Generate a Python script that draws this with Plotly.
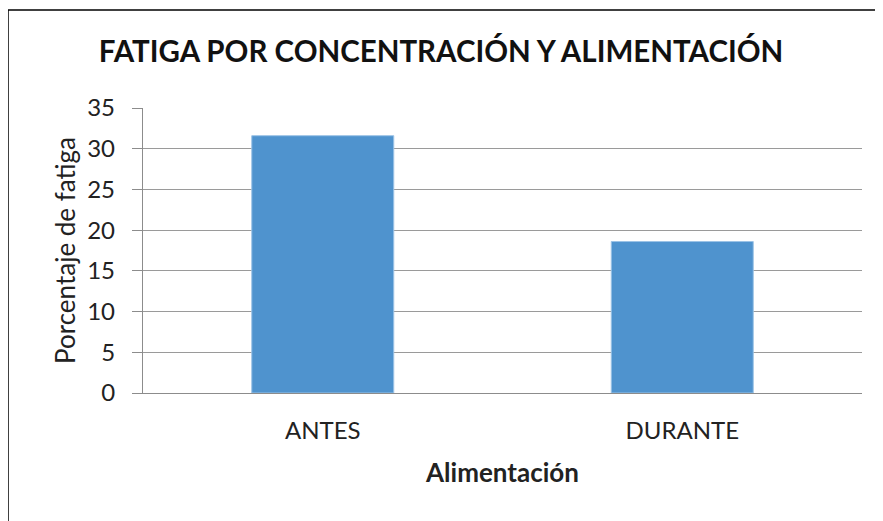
import plotly.graph_objects as go

categories = ["ANTES", "DURANTE"]
values = [31.6, 18.6]
y_ticks = [0, 5, 10, 15, 20, 25, 30, 35]

# the page body has an 8px margin, so figure coords = screen coords - 8
OFF = 8
W, H = 883 - OFF, 521 - OFF
L, R, T, B = 143 - OFF, W - (862 - OFF), 108 - OFF, H - (393 - OFF)
pw, ph = W - L - R, H - T - B

def px_x(x):
    return (x - OFF - L) / pw

def px_y(y):
    return 1 - (y - OFF - T) / ph

fig = go.Figure(go.Bar(x=categories, y=values,
                       marker=dict(color="#4F93CE", line=dict(color="#9CC3E6", width=1)),
                       width=0.395))

font = "Lato, Open Sans, sans-serif"
border = dict(color="black", width=1.5)
fig.update_layout(
    width=W, height=H,
    margin=dict(l=L, r=R, t=T, b=B),
    paper_bgcolor="white", plot_bgcolor="white",
    showlegend=False,
    font=dict(family=font, color="#222222", size=24),
    title=dict(text="<b>FATIGA POR CONCENTRACIÓN Y ALIMENTACIÓN</b>", x=px_x(441), xref="paper", xanchor="center",
               y=1 - (52 - OFF) / H, yanchor="middle", font=dict(size=29.5, color="#111111", family=font)),
    xaxis=dict(showline=True, linecolor="#8C8C8C", linewidth=1.3, ticks="", showgrid=False,
               title=dict(text="<b>Alimentación</b>", font=dict(size=26), standoff=20),
               tickfont=dict(size=24), ticklabelstandoff=16),
    yaxis=dict(range=[0, 35], tickvals=y_ticks, showline=True, linecolor="#8C8C8C", linewidth=1.3,
               ticks="outside", ticklen=10, tickcolor="#8C8C8C", tickwidth=1.3,
               showgrid=True, gridcolor="#9A9A9A", gridwidth=1.3, zeroline=False,
               title=dict(text="Porcentaje de fatiga", font=dict(size=26), standoff=4),
               tickfont=dict(size=24), ticklabelstandoff=12),
    shapes=[
        dict(type="line", xref="paper", yref="paper", x0=px_x(8), x1=px_x(960), y0=px_y(10), y1=px_y(10), line=border),
        dict(type="line", xref="paper", yref="paper", x0=px_x(8), x1=px_x(8), y0=px_y(10), y1=px_y(700), line=border),
    ],
)

fig.write_html("out.html")
